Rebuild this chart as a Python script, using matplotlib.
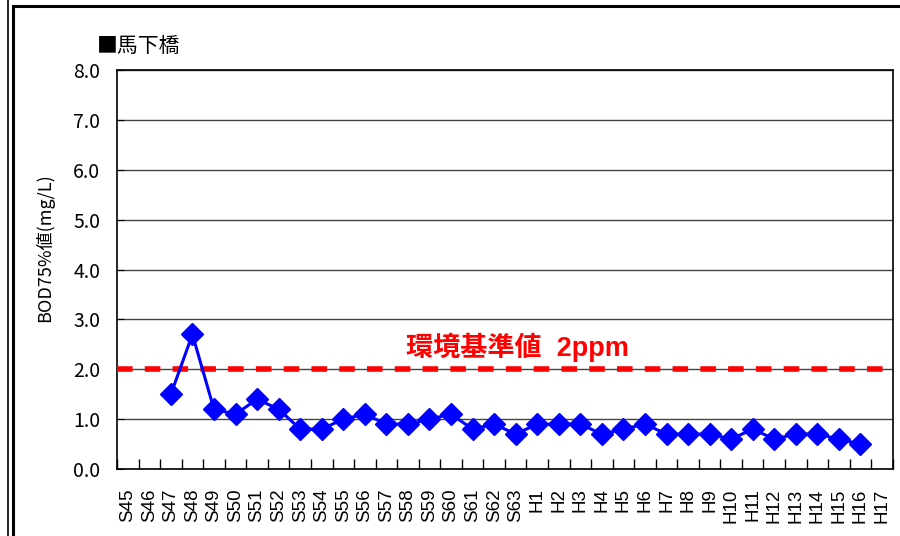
import numpy as np
import matplotlib.pyplot as plt
from matplotlib.lines import Line2D

plt.rcParams['font.family'] = ['Liberation Sans', 'Noto Sans CJK JP', 'DejaVu Sans']

# fiscal years: Showa 45-63, Heisei 1-17
years = [f"S{n}" for n in range(45, 64)] + [f"H{n}" for n in range(1, 18)]
bod75 = [np.nan, np.nan, 1.5, 2.7, 1.2, 1.1, 1.4, 1.2, 0.8, 0.8,
         1.0, 1.1, 0.9, 0.9, 1.0, 1.1, 0.8, 0.9, 0.7,
         0.9, 0.9, 0.9, 0.7, 0.8, 0.9, 0.7, 0.7, 0.7, 0.6,
         0.8, 0.6, 0.7, 0.7, 0.6, 0.5, np.nan]
standard = 2.0

fig = plt.figure(figsize=(9, 5.36), dpi=100)
ax = fig.add_axes([0.130, 0.125, 0.862, 0.744])

x = np.arange(len(years))
ax.set_xlim(-0.5, len(years) - 0.5)
ax.set_ylim(0, 8)

yt = np.arange(0, 8.1, 1.0)
ax.set_yticks(yt)
ax.set_yticklabels([f"{v:.1f}" for v in yt], fontsize=14,
                   family=['Noto Sans CJK JP'])
ax.yaxis.grid(True, color='#444444', lw=1.0)
ax.set_axisbelow(True)

# category labels centred, ticks on the boundaries
ax.set_xticks(x)
ax.set_xticklabels(years, rotation=90, fontsize=13.5)
ax.set_xticks(np.arange(-0.5, len(years), 1.0), minor=True)
ax.tick_params(axis='x', which='major', length=0, pad=14)
ax.tick_params(axis='x', which='minor', direction='in', length=7, width=1.0)
ax.tick_params(axis='y', direction='in', length=5, pad=12)
for sp in ax.spines.values():
    sp.set_linewidth(1.2)
    sp.set_color('black')

ax.axhline(standard, color='#ff0000', lw=4, ls=(0, (2.8, 2.2)), zorder=3)
ax.text(18.1, standard + 0.15, f"環境基準値  {standard:.0f}ppm",
        ha='center', va='bottom', fontsize=19.5, fontweight='bold', color='#ff0000')

ax.plot(x, bod75, color='#0000ff', lw=2.2, marker='D', markersize=11.5,
        markerfacecolor='#0000ff', markeredgecolor='#0000ff', zorder=4)

ax.set_ylabel("BOD75%値(mg/L)", fontsize=13, family=['Noto Sans CJK JP'])
ax.yaxis.set_label_coords(-0.081, 0.556)

fig.text(0.108, 0.893, "■馬下橋", fontsize=15, family=['Noto Sans CJK JP'],
         ha='left', va='bottom')

# outer frame lines
fig.add_artist(Line2D([0.009, 0.009], [0, 1], transform=fig.transFigure,
                      color='black', lw=1.2))
fig.add_artist(Line2D([0.0145, 0.0145], [0, 0.988], transform=fig.transFigure,
                      color='black', lw=2.2))
fig.add_artist(Line2D([0.0145, 1], [0.988, 0.988], transform=fig.transFigure,
                      color='black', lw=2.2))

fig.savefig("out.png", dpi=100, facecolor='white')
